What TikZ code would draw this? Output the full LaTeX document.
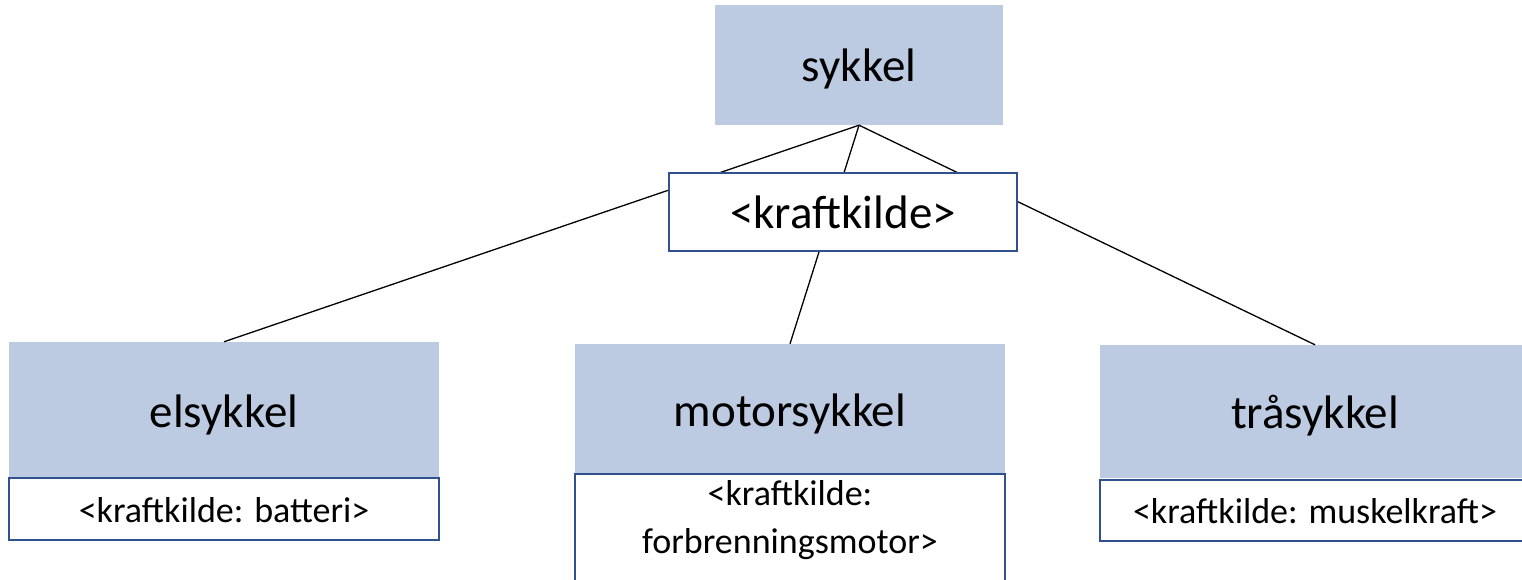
\documentclass[tikz,border=0pt]{standalone}
\usepackage{fontspec}
\setmainfont{Carlito}
\definecolor{boxblue}{RGB}{188,203,226}
\definecolor{edgeblue}{RGB}{47,82,143}
\newcommand{\bigtxt}{\fontsize{47}{57}\selectfont}
\newcommand{\smalltxt}{\fontsize{36}{48}\selectfont}
\begin{document}
\begin{tikzpicture}[x=1pt, y=-1pt, inner sep=0pt,
    klasse/.style={fill=boxblue, minimum width=430, font=\bigtxt, text height=34pt, text depth=0pt},
    attr/.style={draw=edgeblue, line width=1.8pt, fill=white, minimum width=430, font=\smalltxt, align=center, text height=26pt, text depth=0pt},
    link/.style={line width=1.3pt}]
    \useasboundingbox (0,0) rectangle (1522,580);
    \clip (0,0) rectangle (1522,580);

    \node[klasse, minimum width=288, minimum height=120] at (859, 65)   (S) {sykkel};

    \node[klasse, minimum height=136] at (224, 410)    (E) {elsykkel};
    \node[attr, minimum height=62] at (224, 509)       (EA) {<kraftkilde: batteri>};

    \node[klasse, minimum height=130] at (790, 409)    (M) {motorsykkel};
    \node[attr, minimum height=110] at (790, 529)      (MA) {};
    \node[font=\smalltxt, align=center] at (790, 520)  (MT) {<kraftkilde:\\forbrenningsmotor>};

    \node[klasse, minimum height=133] at (1315, 411.5) (T) {tråsykkel};
    \node[attr, minimum height=61] at (1315, 510.5)    (TA) {<kraftkilde: muskelkraft>};

    \draw[link] (S.south) -- (E.north);
    \draw[link] (S.south) -- (M.north);
    \draw[link] (S.south) -- (T.north);

    \node[attr, minimum width=348, minimum height=78, font=\bigtxt, text height=32pt] at (843, 212) (K) {<kraftkilde>};
\end{tikzpicture}
\end{document}
